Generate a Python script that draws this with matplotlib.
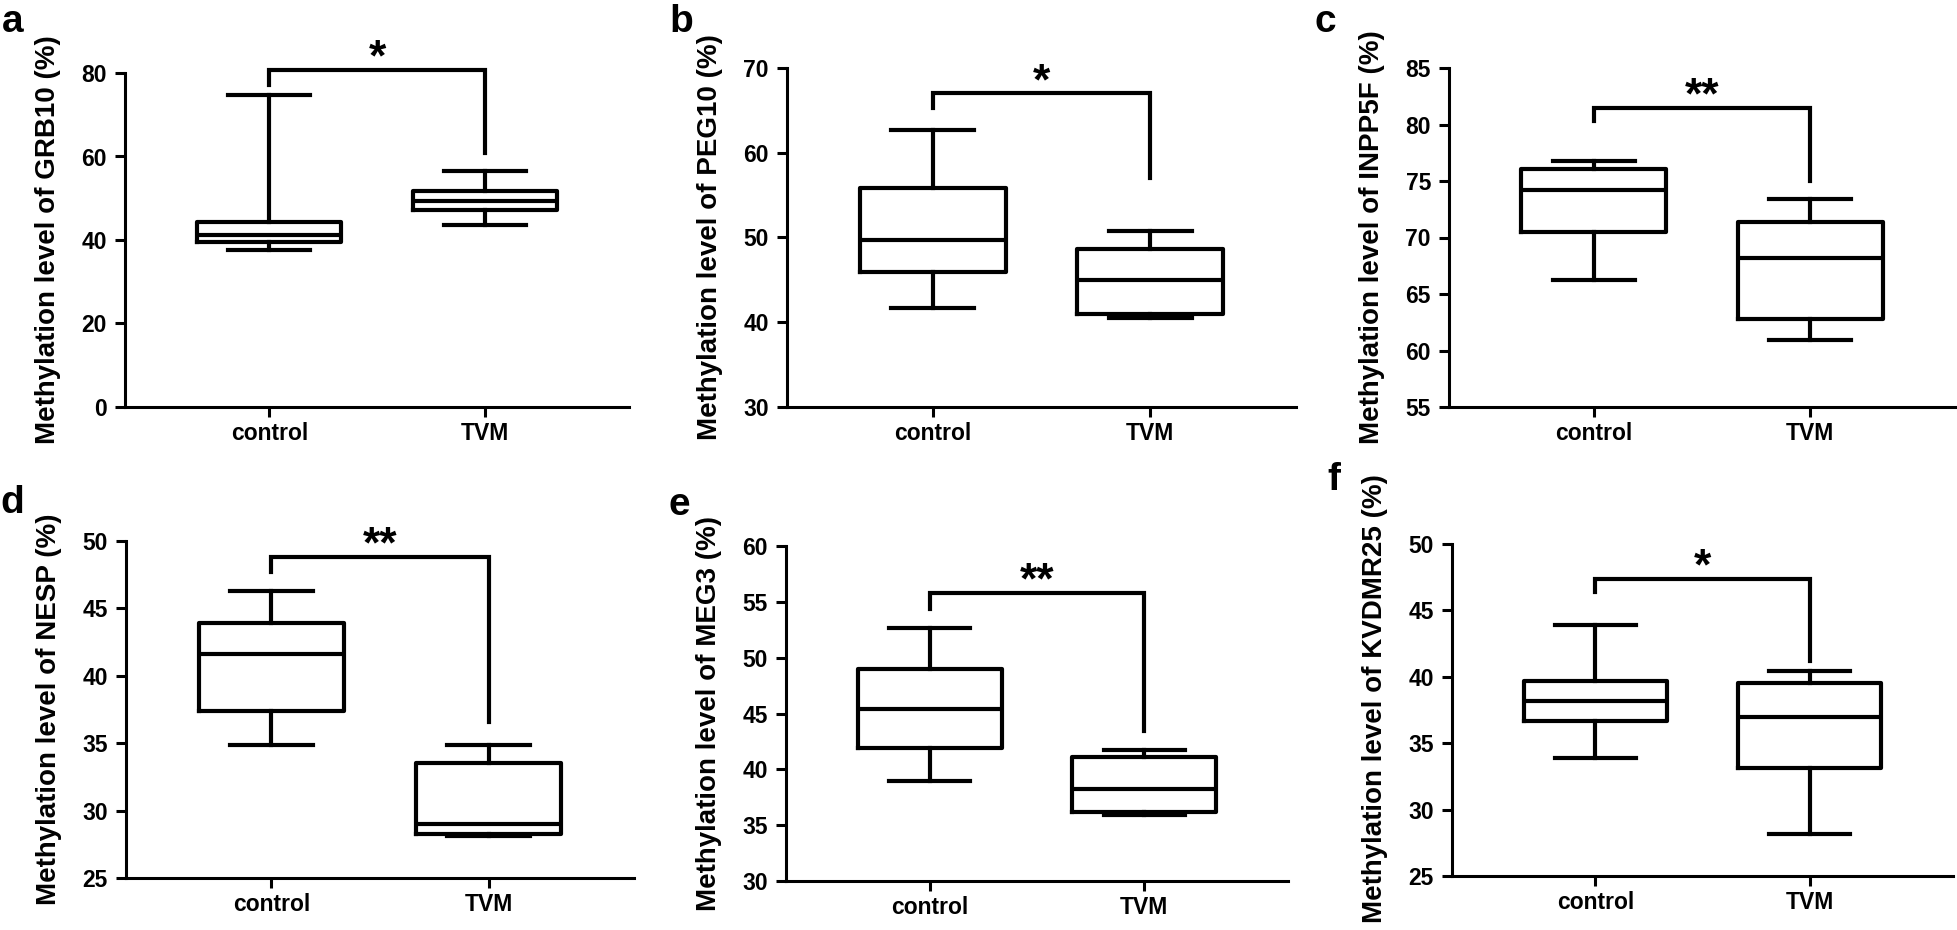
import matplotlib
matplotlib.use("Agg")
import matplotlib.pyplot as plt
from matplotlib.ticker import MultipleLocator

plt.rcParams['font.family'] = ['Liberation Sans', 'DejaVu Sans']
plt.rcParams['font.weight'] = 'bold'

# ---- data (whislo, q1, median, q3, whishi) ----
categories = ["control", "TVM"]
genes = ["GRB10", "PEG10", "INPP5F", "NESP", "MEG3", "KVDMR25"]
panel_letters = ["a", "b", "c", "d", "e", "f"]

grb10_control = [37.7, 39.5, 41.3, 44.2, 74.7]
grb10_tvm = [43.7, 47.1, 49.3, 51.7, 56.6]
peg10_control = [41.7, 45.9, 49.7, 55.8, 62.7]
peg10_tvm = [40.5, 41.0, 45.0, 48.7, 50.8]
inpp5f_control = [66.2, 70.5, 74.2, 76.1, 76.8]
inpp5f_tvm = [60.9, 62.8, 68.2, 71.4, 73.4]
nesp_control = [34.9, 37.4, 41.6, 43.9, 46.3]
nesp_tvm = [28.1, 28.3, 29.0, 33.5, 34.9]
meg3_control = [39.0, 41.9, 45.4, 49.0, 52.7]
meg3_tvm = [35.9, 36.2, 38.2, 41.1, 41.7]
kvdmr25_control = [33.9, 36.7, 38.2, 39.7, 43.9]
kvdmr25_tvm = [28.2, 33.1, 37.0, 39.5, 40.4]

# significance brackets: (bar level, left leg end, right leg end)
brackets = [(80.8, 77.2, 60.8), (67.0, 65.3, 57.0), (81.5, 80.3, 75.0),
            (48.8, 47.7, 36.6), (55.8, 54.4, 43.4), (47.4, 46.4, 41.2)]
stars = ["*", "*", "**", "**", "**", "*"]

y_ranges = [(0, 80), (30, 70), (55, 85), (25, 50), (30, 60), (25, 50)]
y_steps = [20, 10, 5, 5, 5, 5]

series = [(grb10_control, grb10_tvm), (peg10_control, peg10_tvm),
          (inpp5f_control, inpp5f_tvm), (nesp_control, nesp_tvm),
          (meg3_control, meg3_tvm), (kvdmr25_control, kvdmr25_tvm)]

# ---- layout (pixels in a 1958x930 figure) ----
W, H = 1958, 930
axes_px = [  # left, right, top, bottom
    (125, 629, 73, 407),
    (787, 1296, 68, 407),
    (1449, 1955, 68, 407),
    (126, 634, 541, 878),
    (786, 1288, 546, 881),
    (1452, 1953, 544, 876),
]
label_px = [(2, 32), (669, 32), (1315, 32), (0, 513), (669, 515), (1327, 490)]
ylabel_center = [0.5, 0.5, 0.5, 0.5, 0.5, 0.535]

fig = plt.figure(figsize=(W / 100, H / 100), dpi=100)
LW = 3.0

for i in range(6):
    l, r, t, b = axes_px[i]
    ax = fig.add_axes([l / W, (H - b) / H, (r - l) / W, (b - t) / H])
    c, v = series[i]
    stats = []
    for name, s in zip(categories, (c, v)):
        stats.append(dict(label=name, whislo=s[0], q1=s[1], med=s[2],
                          q3=s[3], whishi=s[4], fliers=[]))
    ax.bxp(stats, positions=[0, 1], widths=0.67, capwidths=0.38,
           showfliers=False, patch_artist=False,
           boxprops=dict(color='black', linewidth=LW),
           medianprops=dict(color='black', linewidth=LW),
           whiskerprops=dict(color='black', linewidth=LW),
           capprops=dict(color='black', linewidth=LW))
    y0, y1 = y_ranges[i]
    ax.set_ylim(y0, y1)
    ax.set_xlim(-0.67, 1.67)
    ax.yaxis.set_major_locator(MultipleLocator(y_steps[i]))
    ax.set_xticks([0, 1])
    ax.set_xticklabels(categories)
    for sp in ['top', 'right']:
        ax.spines[sp].set_visible(False)
    for sp in ['left', 'bottom']:
        ax.spines[sp].set_linewidth(2.2)
    ax.tick_params(axis='both', width=2.2, length=7, labelsize=16.5)
    ax.tick_params(axis='y', pad=6)
    ax.tick_params(axis='x', pad=4)
    for lab in ax.get_xticklabels() + ax.get_yticklabels():
        lab.set_fontweight('bold')
    ax.set_ylabel(f"Methylation level of {genes[i]} (%)", fontsize=20,
                  fontweight='bold')
    ax.yaxis.set_label_coords(-64 / (r - l), ylabel_center[i])
    # bracket
    bar, lleg, rleg = brackets[i]
    ax.plot([0, 0, 1, 1], [lleg, bar, bar, rleg], color='black',
            linewidth=LW, clip_on=False, solid_joinstyle='miter')
    ax.annotate(stars[i], xy=(0.5, bar), xytext=(0, -7),
                textcoords='offset points', ha='center', va='bottom',
                fontsize=32, fontweight='bold', annotation_clip=False)
    # panel letter
    lx, ly = label_px[i]
    fig.text(lx / W, 1 - ly / H, panel_letters[i], fontsize=28,
             fontweight='bold', ha='left', va='baseline')

fig.savefig("out.png", dpi=100)
